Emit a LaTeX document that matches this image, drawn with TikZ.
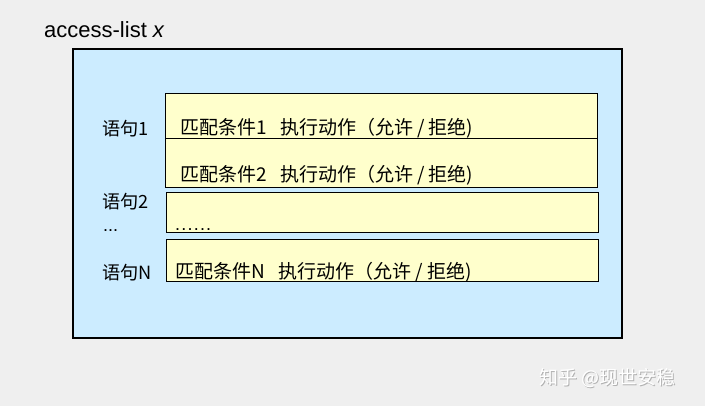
\documentclass[tikz,border=0pt]{standalone}
\usepackage{fontspec}
\setmainfont{Liberation Sans}
\newfontfamily\cjk{Noto Sans CJK SC}
\definecolor{bggray}{HTML}{EFEFEF}
\definecolor{panelblue}{HTML}{CCECFF}
\definecolor{rowyellow}{HTML}{FFFFCC}
\begin{document}
\begin{tikzpicture}[x=1pt,y=-1pt,
  rowbox/.style={draw=black,line width=0.9pt,fill=rowyellow},
  rowtext/.style={anchor=west,inner sep=0pt,font=\cjk\fontsize{19}{21}\selectfont},
  labeltext/.style={anchor=west,inner sep=0pt,font=\cjk\fontsize{18.2}{21}\selectfont},
  marktext/.style={white,font=\cjk\fontsize{19}{22}\selectfont,inner sep=0pt}]
\useasboundingbox (0,0) rectangle (705,406);
\fill[bggray] (0,0) rectangle (705,406);
\node[anchor=west,inner sep=0pt,font=\fontsize{22}{26}\selectfont] (title) at (44,30) {access-list \textit{x}};
\draw[line width=2.8pt,fill=panelblue] (73,49) rectangle (622,338);
\coordinate (panelNW) at (73,49);
\draw[rowbox] (165,93) rectangle (597,138);
\draw[rowbox] (165,138) rectangle (597,187);
\draw[rowbox] (166,192) rectangle (598,232);
\draw[rowbox] (166,239) rectangle (598,281);
\node[labeltext] (l1) at (102,129) {语句1};
\node[labeltext] (l2) at (102,202) {语句2};
\node[anchor=base west,inner sep=0pt,font=\fontsize{18}{20}\selectfont] (ld) at (103,232) {...};
\node[labeltext] (ln) at (102,273) {语句N};
\node[rowtext] (t1) at (180,128.5) {匹配条件1\hspace{0.7em}执行动作（允许 / 拒绝)};
\node[rowtext] (t2) at (180,175.5) {匹配条件2\hspace{0.7em}执行动作（允许 / 拒绝)};
\node[anchor=base west,inner sep=0pt,font=\fontsize{18}{20}\selectfont] (t3) at (175,231) {.\kern1.2pt.\kern1.2pt.\kern1.2pt.\kern1.2pt.\kern1.2pt.};
\node[rowtext] (t4) at (175,272.5) {匹配条件N\hspace{0.7em}执行动作（允许 / 拒绝)};
\node[marktext,gray!60,anchor=west] (wms) at (539.8,378.8) {知乎 @现世安稳};
\node[marktext,anchor=west] (wm) at (539,378) {知乎 @现世安稳};
\end{tikzpicture}
\end{document}
